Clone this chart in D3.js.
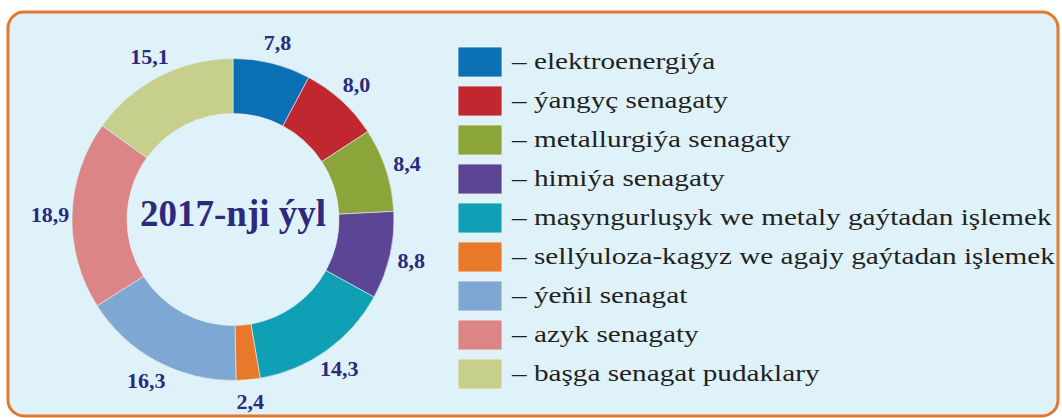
<!doctype html>
<html lang="en">
<head>
  <meta charset="utf-8">
  <title>2017-nji ýyl</title>
  <style>
    html, body { margin: 0; padding: 0; background: #fff; }
    svg { display: block; }
  </style>
</head>
<body>
  <div class="chart"></div>
  <script src="https://d3js.org/d3.v7.min.js"></script>
  <script>
    'use strict';

    const categories = [
      'elektroenergiýa',
      'ýangyç senagaty',
      'metallurgiýa senagaty',
      'himiýa senagaty',
      'maşyngurluşyk we metaly gaýtadan işlemek',
      'sellýuloza-kagyz we agajy gaýtadan işlemek',
      'ýeňil senagat',
      'azyk senagaty',
      'başga senagat pudaklary'
    ];
    const values = [7.8, 8.0, 8.4, 8.8, 14.3, 2.4, 16.3, 18.9, 15.1];
    const colors = ['#0b6fb4', '#c1272f', '#8ba53a', '#5d4595', '#10a0b6', '#e8792a', '#7ea8d3', '#dc8586', '#c6cf8b'];
    const centerTitle = '2017-nji ýyl';

    const serif = '"Liberation Serif", "Times New Roman", serif';
    const navy = '#2b2a7c';

    const width = 1062;
    const height = 418;
    const cx = 233, cy = 219.5;
    const outerR = 161, innerR = 106, labelR = 183;

    const data = categories.map((c, i) => ({name: c, value: values[i], color: colors[i]}));

    const svg = d3.select('.chart').append('svg')
      .attr('width', width)
      .attr('height', height);

    // frame
    svg.append('rect')
      .attr('x', 8).attr('y', 12)
      .attr('width', 1050).attr('height', 404)
      .attr('rx', 16).attr('ry', 16)
      .attr('fill', '#dff2fa')
      .attr('stroke', '#e2772e')
      .attr('stroke-width', 3);

    const pie = d3.pie().sort(null).value(d => d.value);
    const arc = d3.arc().innerRadius(innerR).outerRadius(outerR);
    const labelArc = d3.arc().innerRadius(labelR).outerRadius(labelR);

    const g = svg.append('g').attr('transform', `translate(${cx},${cy})`);
    const arcs = pie(data);

    g.selectAll('path')
      .data(arcs)
      .enter().append('path')
      .attr('d', arc)
      .attr('fill', d => d.data.color)
      .attr('stroke', '#e6f0f0')
      .attr('stroke-width', 0.6);

    g.selectAll('.val')
      .data(arcs)
      .enter().append('text')
      .attr('class', 'val')
      .style('font-family', serif)
      .style('font-weight', 'bold')
      .style('font-size', '22px')
      .style('fill', navy)
      .attr('text-anchor', 'middle')
      .attr('dy', '0.35em')
      .attr('transform', d => `translate(${labelArc.centroid(d)})`)
      .text(d => d.data.value.toFixed(1).replace('.', ','));

    g.append('text')
      .style('font-family', serif)
      .style('font-weight', 'bold')
      .style('font-size', '37px')
      .style('fill', navy)
      .attr('text-anchor', 'middle')
      .attr('x', 0)
      .attr('y', 6)
      .text(centerTitle);

    // legend
    const legX = 458, textStart = 512, textEnd = 1055;
    const yLeg = d3.scaleBand()
      .domain(categories)
      .range([47, 47 + 39 * categories.length]);

    const leg = svg.append('g').selectAll('g')
      .data(data)
      .enter().append('g')
      .attr('transform', d => `translate(${legX},${yLeg(d.name)})`);

    leg.append('rect')
      .attr('width', 44)
      .attr('height', 30)
      .attr('fill', d => d.color)
      .attr('stroke', '#f3f3f3')
      .attr('stroke-width', 0.8);

    const labels = leg.append('text')
      .style('font-family', serif)
      .style('font-weight', 'normal')
      .style('font-size', '24px')
      .style('fill', '#231f20')
      .text(d => '– ' + d.name);

    // the printed font is wider than Times: stretch to the same line length
    const maxLen = d3.max(labels.nodes(), n => n.getComputedTextLength());
    const k = (textEnd - textStart) / maxLen;
    labels.attr('transform', `translate(${textStart - legX},21.5) scale(${k},1)`);
  </script>
</body>
</html>
